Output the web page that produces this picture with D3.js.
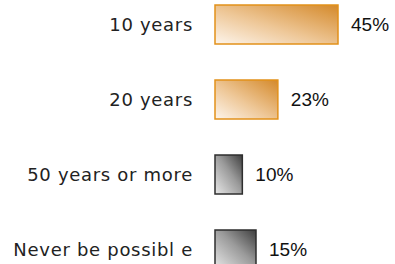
<!DOCTYPE html>
<html>
<head>
<meta charset="utf-8">
<script src="https://cdn.jsdelivr.net/npm/d3@7"></script>
<style>
  body { margin: 0; background: #fff; }
</style>
</head>
<body>
<div id="chart-area"></div>
<script>
// data
const categories = ["10 years", "20 years", "50 years or more", "Never be possibl e"];
const values = [45, 23, 10, 15];
const groups = ["orange", "orange", "gray", "gray"];

const width = 395, height = 264;

const svg = d3.select("#chart-area").append("svg")
    .attr("width", width)
    .attr("height", height);

let defs = svg.append("defs");

// orange gradient
let og = defs.append("linearGradient")
    .attr("id", "grad-orange")
    .attr("x1", 0).attr("y1", 1).attr("x2", 1).attr("y2", 0);
og.append("stop").attr("offset", "0%").attr("stop-color", "#fdf5ec");
og.append("stop").attr("offset", "45%").attr("stop-color", "#eec797");
og.append("stop").attr("offset", "100%").attr("stop-color", "#d4892a");

// gray gradient
let gg = defs.append("linearGradient")
    .attr("id", "grad-gray")
    .attr("x1", 0).attr("y1", 1).attr("x2", 1).attr("y2", 0);
gg.append("stop").attr("offset", "0%").attr("stop-color", "#e8e8e8");
gg.append("stop").attr("offset", "55%").attr("stop-color", "#9a9a9a");
gg.append("stop").attr("offset", "100%").attr("stop-color", "#3e3e3e");

const x = d3.scaleLinear()
    .domain([0, 45])
    .range([215, 338]);

// step 75, bar height 39
const y = d3.scaleBand()
    .domain(categories)
    .range([5, 269])
    .paddingInner(0.48)
    .paddingOuter(0);

const data = categories.map((c, i) => ({name: c, value: values[i], group: groups[i]}));

// bars
svg.selectAll(".bar")
    .data(data)
    .enter().append("rect")
    .attr("class", "bar")
    .attr("x", x(0))
    .attr("y", d => y(d.name))
    .attr("width", d => x(d.value) - x(0))
    .attr("height", y.bandwidth())
    .attr("fill", d => d.group == "orange" ? "url(#grad-orange)" : "url(#grad-gray)")
    .attr("stroke", d => d.group == "orange" ? "#e2911a" : "#2e2e2e")
    .attr("stroke-width", 1.5);

// category labels
svg.selectAll(".cat-label")
    .data(data)
    .enter().append("text")
    .attr("class", "cat-label")
    .attr("x", 193)
    .attr("y", d => y(d.name) + y.bandwidth() / 2)
    .attr("dy", "0.36em")
    .attr("text-anchor", "end")
    .text(d => d.name)
    .attr("style", "font-family: 'DejaVu Sans'; font-size: 18px; letter-spacing: 0.7px; fill: #222;");

// value labels
svg.selectAll(".val-label")
    .data(data)
    .enter().append("text")
    .attr("class", "val-label")
    .attr("x", d => x(d.value) + 13)
    .attr("y", d => y(d.name) + y.bandwidth() / 2)
    .attr("dy", "0.36em")
    .text(d => d.value + "%")
    .attr("style", "font-family: 'Liberation Sans', Arial; font-size: 19px; fill: #111;");
</script>
</body>
</html>
